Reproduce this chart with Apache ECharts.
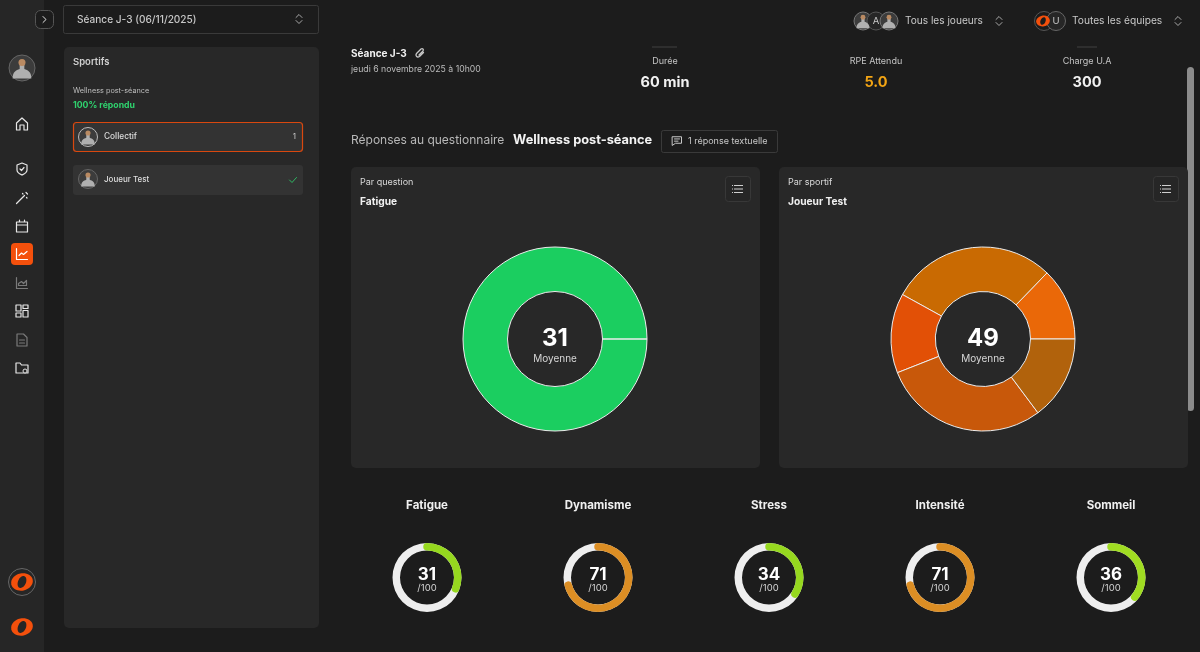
<!DOCTYPE html>
<html>
<head>
<meta charset="utf-8">
<style>
  html, body { margin: 0; padding: 0; background: #1c1c1c; }
  #main { width: 1200px; height: 652px; }
</style>
<script src="https://cdn.jsdelivr.net/npm/echarts@6/dist/echarts.min.js"></script>
</head>
<body>
<div id="main"></div>
<script>
// valeurs
const questions = ['Fatigue', 'Dynamisme', 'Stress', 'Intensité', 'Sommeil'];
const scores = [31, 71, 34, 71, 36];
const ringColors = ['#96d81f', '#dc8e24', '#96d81f', '#dc8e24', '#a0dc22'];
const sliceColors = ['#ea6808', '#c96a02', '#e25006', '#c8580a', '#b1620c'];
const ringCenters = [427, 598, 769, 940, 1111];
const questionValue = [31, 0];
const questionColor = '#1bce60';
const statLabels = ['Durée', 'RPE Attendu', 'Charge U.A'];
const statValues = ['60 min', '5.0', '300'];
const statColors = ['#f2f2f2', '#f2a414', '#f2f2f2'];
const statCenters = [665, 876, 1087];

const FONT = 'Inter, "Noto Sans", sans-serif';
const g = [];
const shapes = {};

function rect(x, y, w, h, fill, r, stroke, lw) {
  g.push({ type: 'rect', shape: { x, y, width: w, height: h, r: r || 0 },
    style: { fill: fill || 'transparent', stroke: stroke || null, lineWidth: lw || 1 } });
}
function text(x, y, str, size, weight, color, align) {
  g.push({ type: 'text', z: 20, x, y: y + 0.5, style: { text: str, fill: color,
    font: weight + ' ' + size + 'px ' + FONT, textAlign: align || 'left', textVerticalAlign: 'middle' } });
}
function circle(cx, cy, r, fill, stroke, lw, z) {
  g.push({ type: 'circle', z: z || 10, shape: { cx, cy, r },
    style: { fill: fill || 'transparent', stroke: stroke || null, lineWidth: lw || 1 } });
}
// le composant graphic n'a pas de type path : on enregistre chaque tracé une fois
function pathType(d) {
  if (!shapes[d]) {
    shapes[d] = 'icon' + Object.keys(shapes).length;
    echarts.graphic.registerShape(shapes[d], echarts.graphic.extendPath(d, {}));
  }
  return shapes[d];
}
function icon(cx, cy, w, h, d, color, lw) {
  g.push({ type: pathType(d), z: 10, x: cx - w / 2, y: cy - h / 2,
    style: { fill: 'transparent', stroke: color || '#e6e6e6', lineWidth: lw || 1.2, lineCap: 'round', lineJoin: 'round' } });
}
function updown(cx, cy) {
  icon(cx, cy - 3, 6, 3, 'M0 3L3 0L6 3', '#a8a8a8', 1);
  icon(cx, cy + 3, 6, 3, 'M0 0L3 3L6 0', '#a8a8a8', 1);
}
function avatar(cx, cy, r, ringColor) {
  circle(cx, cy, r, '#3c3c3c', ringColor || '#777', 1);
  g.push({ type: pathType('M0 12C0 7 3 6 6 5L6 0L10 0L10 5C13 6 16 7 16 12Z'), z: 11,
    x: cx - r * 0.72, y: cy - r * 0.45, scaleX: r * 1.44 / 16, scaleY: r * 1.25 / 12,
    style: { fill: '#b0b0b0' } });
  circle(cx, cy - r * 0.42, r * 0.27, '#b98a62', null, 1, 12);
}
function logo(cx, cy, s, bg) {
  g.push({ type: 'ellipse', z: 11, x: cx, y: cy, rotation: 0.2,
    shape: { cx: 0, cy: 0, rx: 11.5 * s, ry: 9 * s }, style: { fill: '#f4500c' } });
  g.push({ type: 'ellipse', z: 12, x: cx, y: cy, rotation: -0.4,
    shape: { cx: 0, cy: 0, rx: 4.2 * s, ry: 6.6 * s }, style: { fill: bg } });
}
function listButton(x) {
  rect(x + 0.5, 176.5, 25, 25, '#262626', 3, '#383838');
  for (let i = 0; i < 3; i++) {
    g.push({ type: 'line', z: 10, shape: { x1: x + 9, y1: 185.5 + i * 3.5, x2: x + 18, y2: 185.5 + i * 3.5 },
      style: { stroke: '#cfcfcf', lineWidth: 1 } });
    g.push({ type: 'line', z: 10, shape: { x1: x + 7, y1: 185.5 + i * 3.5, x2: x + 8, y2: 185.5 + i * 3.5 },
      style: { stroke: '#cfcfcf', lineWidth: 1 } });
  }
}

// barre de navigation
rect(0, 0, 44, 652, '#262626');
avatar(22, 68, 13, '#666');
g.push({ type: 'rect', z: 9, shape: { x: 11, y: 243, width: 22, height: 22, r: 4 }, style: { fill: '#f4500c' } });
icon(22, 124, 11, 12, 'M0 5L5.5 0L11 5L11 12L7.5 12L7.5 7L3.5 7L3.5 12L0 12Z');
icon(22, 169, 10, 12, 'M5 0L10 2L10 7C10 10 7 11 5 12C3 11 0 10 0 7L0 2Z');
icon(22, 169, 4, 3, 'M0 1.5L1.5 3L4 0');
icon(22, 198, 11, 11, 'M0 11L8 3M6 1L6.5 1.5M10 5L10.5 5.5M9.5 0L11 1.5');
icon(22, 226, 11, 12, 'M0 2L11 2L11 12L0 12ZM0 5L11 5M3 0L3 2M8 0L8 2');
icon(22, 254, 11, 11, 'M0 0L0 11L11 11M2.5 7L5 4.5L7 6L10.5 3', '#ffffff');
icon(22, 283, 11, 11, 'M0 0L0 11L11 11M2 8L2 6L5 4L7 6L10 3L10 8Z', '#7a7a7a');
icon(22, 311, 12, 12, 'M0 0L5 0L5 6L0 6ZM7 0L12 0L12 3.5L7 3.5ZM0 8L5 8L5 12L0 12ZM7 5.5L12 5.5L12 12L7 12Z');
icon(22, 340, 10, 12, 'M0 0L6.5 0L10 3.5L10 12L0 12ZM2.5 6L7.5 6M2.5 9L7.5 9', '#7a7a7a');
icon(22, 368, 12, 10, 'M0 0L4 0L5.5 2L12 2L12 10L0 10Z');
circle(25, 371, 2, '#262626', '#e6e6e6', 1);
circle(22, 582, 13.5, 'transparent', '#666', 1);
logo(22, 582, 0.95, '#262626');
logo(22, 627, 0.95, '#262626');

// barre du haut
rect(35.5, 10.5, 18, 18, '#1c1c1c', 5, '#555');
icon(44.5, 19.5, 3, 6, 'M0 0L3 3L0 6', '#e6e6e6', 1);
rect(63.5, 5.5, 255, 28, 'transparent', 2, '#3a3a3a');
text(77, 19, 'Séance J-3 (06/11/2025)', 10.1, 500, '#c8c8c8');
updown(299, 19);
avatar(863, 21, 9);
circle(876, 21, 9, '#262626', '#555');
text(876, 20.5, 'A', 9.5, 400, '#c8c8c8', 'center');
avatar(889, 21, 9);
text(905, 20, 'Tous les joueurs', 10.1, 400, '#c8c8c8');
updown(999, 21);
circle(1044, 21, 9.5, '#1c1c1c', '#555');
logo(1043, 21, 0.6, '#1c1c1c');
circle(1056, 21, 9.5, '#262626', '#666');
text(1056, 20.5, 'U', 9.5, 400, '#c8c8c8', 'center');
text(1072, 20, 'Toutes les équipes', 10.2, 400, '#c8c8c8');
updown(1178, 21);

// panneau Sportifs
rect(64, 47, 255, 581, '#282828', 5);
text(73, 62, 'Sportifs', 9.5, 600, '#d0d0d0');
text(73, 90, 'Wellness post-séance', 7.3, 400, '#bdbdbd');
text(73, 105, '100% répondu', 8.7, 700, '#2fd36e');
rect(73.5, 122.5, 229, 29, '#333333', 3, '#d9480f', 1.2);
avatar(88, 137, 9.5, '#bbb');
text(104, 136, 'Collectif', 8.3, 500, '#dedede');
text(296, 136, '1', 8, 400, '#c8c8c8', 'right');
rect(73, 165, 230, 30, '#333333', 3);
avatar(88, 179, 9.5, '#666');
text(104, 179, 'Joueur Test', 8, 500, '#dedede');
icon(293, 180, 7, 5, 'M0 2.5L2.5 5L7 0', '#2fb863', 1);

// en-tete de seance
text(351, 53, 'Séance J-3', 10, 700, '#f2f2f2');
icon(420, 53, 8, 9, 'M7.5 4L3.5 8C1 9.5 -1 7 0.5 5L5 0.5C6.5 -0.5 8 1 7 2.5L3 6.5', '#c8c8c8', 1.3);
text(351, 69, 'jeudi 6 novembre 2025 à 10h00', 8.7, 400, '#bdbdbd');
rect(652, 46, 25, 2, '#2e2e2e');
rect(1077, 46, 20, 2, '#2e2e2e');
statLabels.forEach((label, i) => {
  text(statCenters[i], 61, label, 9, 400, '#c4c4c4', 'center');
  text(statCenters[i], 82.5, statValues[i], 14.5, 700, statColors[i], 'center');
});
rect(1187, 67, 7, 344, '#8c8c8c', 3.5);

// titre du questionnaire
text(351, 140, 'Réponses au questionnaire', 12, 400, '#b8b8b8');
text(513, 140, 'Wellness post-séance', 12.8, 700, '#f4f4f4');
rect(661.5, 130.5, 116, 22, 'transparent', 2, '#3a3a3a');
icon(677, 141, 9, 8.5, 'M0 0L9 0L9 6.5L3 6.5L0 8.5ZM2 2.2L7 2.2M2 4.4L5.5 4.4', '#c8c8c8', 1);
text(688, 140.5, '1 réponse textuelle', 9, 400, '#c8c8c8');

// cartes
rect(351, 167, 409, 301, '#282828', 5);
rect(779, 167, 409, 301, '#282828', 5);
text(360, 182, 'Par question', 9, 400, '#dadada');
text(360, 201, 'Fatigue', 10.2, 700, '#f0f0f0');
text(788, 182, 'Par sportif', 9, 400, '#dadada');
text(788, 201, 'Joueur Test', 10.2, 700, '#f0f0f0');
listButton(725);
listButton(1153);

const mean = Math.round(scores.reduce((a, b) => a + b, 0) / scores.length);
text(555, 338, String(questionValue[0]), 24, 700, '#ffffff', 'center');
text(555, 358, 'Moyenne', 10, 400, '#d6d6d6', 'center');
text(983, 338, String(mean), 24, 700, '#ffffff', 'center');
text(983, 358, 'Moyenne', 10, 400, '#d6d6d6', 'center');

questions.forEach((q, i) => {
  text(ringCenters[i], 505.5, q, 11.5, 700, '#f0f0f0', 'center');
  text(ringCenters[i], 574, String(scores[i]), 17, 700, '#ffffff', 'center');
  text(ringCenters[i], 588, '/100', 9.5, 400, '#d6d6d6', 'center');
});

function donut(center, data) {
  return {
    type: 'pie', center, radius: [47.5, 92], startAngle: 0, clockwise: false,
    animation: false, silent: true, label: { show: false }, labelLine: { show: false },
    emphasis: { disabled: true }, data
  };
}
const sliceStyle = color => ({ color, borderColor: '#ececec', borderWidth: 1 });

const series = [
  donut([555, 339], questionValue.map(value => ({ value, itemStyle: sliceStyle(questionColor) }))),
  donut([983, 339], scores.map((value, i) => ({ name: questions[i], value, itemStyle: sliceStyle(sliceColors[i]) })))
];
scores.forEach((value, i) => {
  series.push({
    type: 'gauge', center: [ringCenters[i], 577.5], radius: 34.5,
    startAngle: 90, endAngle: -270, min: 0, max: 100, animation: false, silent: true,
    pointer: { show: false }, axisTick: { show: false }, splitLine: { show: false },
    axisLabel: { show: false }, title: { show: false }, detail: { show: false },
    axisLine: { lineStyle: { width: 7.5, color: [[1, '#eeeeee']] } },
    progress: { show: true, width: 7.5, roundCap: true, itemStyle: { color: ringColors[i] } },
    data: [{ value }]
  });
});

const chart = echarts.init(document.getElementById('main'));
chart.setOption({
  backgroundColor: '#1c1c1c',
  animation: false,
  graphic: { elements: g },
  series
});
</script>
</body>
</html>
